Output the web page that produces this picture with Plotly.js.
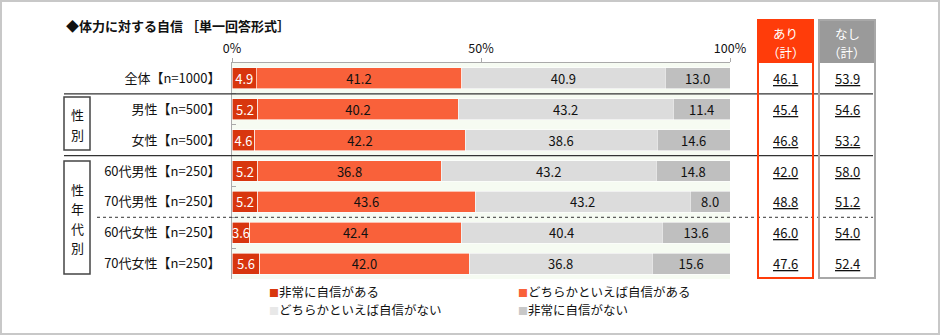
<!DOCTYPE html>
<html><head><meta charset="utf-8">
<script src="https://cdn.plot.ly/plotly-3.0.1.min.js"></script>
<style>html,body{margin:0;padding:0;background:#fff}#c{width:940px;height:335px}</style>
</head><body><div id="c"></div>
<script>
const categories = ['全体【n=1000】','男性【n=500】','女性【n=500】','60代男性【n=250】','70代男性【n=250】','60代女性【n=250】','70代女性【n=250】'];
const seriesNames = ['非常に自信がある','どちらかといえば自信がある','どちらかといえば自信がない','非常に自信がない'];
const verySure = [4.9,5.2,4.6,5.2,5.2,3.6,5.6];
const ratherSure = [41.2,40.2,42.2,36.8,43.6,42.4,42.0];
const ratherNotSure = [40.9,43.2,38.6,43.2,43.2,40.4,36.8];
const notSure = [13.0,11.4,14.6,14.8,8.0,13.6,15.6];
const ariTotal = [46.1,45.4,46.8,42.0,48.8,46.0,47.6];
const nashiTotal = [53.9,54.6,53.2,58.0,51.2,54.0,52.4];
const xTickVals = [0,50,100];
const xTickText = ['0%','50%','100%'];

const colors = ['#d8360e','#f9613a','#dcdcdc','#bfbfbf'];
const legendColors = ['#d8360e','#f9613a','#e8e8e8','#c8c8c8'];
const textColors = ['#ffffff','#111111','#111111','#111111'];
const FONT = '"Noto Sans CJK JP", "Noto Sans", sans-serif';

const L = 232, R = 730, T = 63, B = 279;
const px = v => (v - L) / (R - L);
const py = v => (B - v) / (B - T);

const allSeries = [verySure, ratherSure, ratherNotSure, notSure];
const traces = allSeries.map((vals, k) => ({
  type: 'bar', orientation: 'h', name: seriesNames[k],
  x: vals, y: categories,
  marker: {color: colors[k], line: {color: '#ffffff', width: 0.6}},
  width: 0.68,
  texttemplate: '%{x:.1f}', textposition: 'inside', insidetextanchor: 'middle',
  textangle: 0, constraintext: 'none', cliponaxis: false,
  textfont: {family: FONT, size: 13, color: textColors[k]},
  hoverinfo: 'skip', showlegend: false
}));

const shapes = [
  {type:'rect', xref:'paper', yref:'paper', x0:px(1), x1:px(939), y0:py(1), y1:py(334), line:{color:'#c8c8c8', width:2}},
  {type:'line', xref:'paper', yref:'y', x0:px(64), x1:px(873), y0:0.5, y1:0.5, line:{color:'#333', width:1.3}},
  {type:'line', xref:'paper', yref:'y', x0:px(64), x1:px(873), y0:2.5, y1:2.5, line:{color:'#333', width:1.3}},
  {type:'line', xref:'paper', yref:'y', x0:px(97), x1:px(873), y0:4.5, y1:4.5, line:{color:'#333', width:1, dash:'dot'}},
  {type:'rect', xref:'paper', yref:'paper', x0:px(64), x1:px(90), y0:py(97), y1:py(150), line:{color:'#444', width:1.5}, fillcolor:'#fff'},
  {type:'rect', xref:'paper', yref:'paper', x0:px(64), x1:px(90), y0:py(161), y1:py(274), line:{color:'#444', width:1.5}, fillcolor:'#fff'},
  {type:'rect', xref:'paper', yref:'paper', x0:px(758), x1:px(813), y0:py(20), y1:py(63), line:{width:0}, fillcolor:'#ff3c0a'},
  {type:'rect', xref:'paper', yref:'paper', x0:px(758), x1:px(813), y0:py(20), y1:py(278), line:{color:'#ff3c0a', width:2}},
  {type:'rect', xref:'paper', yref:'paper', x0:px(819), x1:px(875), y0:py(20), y1:py(63), line:{width:0}, fillcolor:'#9a9a9a'},
  {type:'rect', xref:'paper', yref:'paper', x0:px(819), x1:px(875), y0:py(20), y1:py(278), line:{color:'#a8a8a8', width:2}}
];

const ann = (x, y, text, opts) => Object.assign({xref:'paper', yref:'paper', x:px(x), y:py(y),
  xanchor:'center', yanchor:'middle', showarrow:false, text:text,
  font:{family:FONT, size:13, color:'#111'}}, opts || {});

const annotations = [
  ann(64, 25, '<b>◆体力に対する自信 ［単一回答形式］</b>', {xanchor:'left'}),
  ann(77, 114, '性'), ann(77, 134, '別'),
  ann(77, 189, '性'), ann(77, 208.5, '年'), ann(77, 228, '代'), ann(77, 247.5, '別'),
  ann(785.5, 33, 'あり', {font:{family:FONT, size:12.5, color:'#fff'}}),
  ann(785.5, 52, '（計）', {font:{family:FONT, size:12.5, color:'#fff'}}),
  ann(847, 33, 'なし', {font:{family:FONT, size:12.5, color:'#fff'}}),
  ann(847, 52, '（計）', {font:{family:FONT, size:12.5, color:'#fff'}})
];
ariTotal.forEach((v, i) => annotations.push({xref:'paper', yref:'y', x:px(785.5), y:i, showarrow:false,
  xanchor:'center', yanchor:'middle', text:'<u>' + v.toFixed(1) + '</u>', font:{family:FONT, size:13, color:'#111'}}));
nashiTotal.forEach((v, i) => annotations.push({xref:'paper', yref:'y', x:px(847), y:i, showarrow:false,
  xanchor:'center', yanchor:'middle', text:'<u>' + v.toFixed(1) + '</u>', font:{family:FONT, size:13, color:'#111'}}));
// legend: 2 x 2 grid
const legPos = [[267,291],[516,291],[267,309.5],[516,309.5]];
seriesNames.forEach((n, k) => annotations.push(ann(legPos[k][0], legPos[k][1],
  '<span style="color:' + legendColors[k] + ';font-size:10px">■</span>' + n,
  {xanchor:'left', font:{family:FONT, size:12.5, color:'#111'}})));

const layout = {
  width: 940, height: 335,
  margin: {l: L, r: 940 - R, t: T, b: 335 - B},
  paper_bgcolor: '#ffffff', plot_bgcolor: '#f6fbf2',
  barmode: 'stack',
  showlegend: false,
  xaxis: {side:'top', range:[0,100.0001], tickvals:xTickVals, ticktext:xTickText, ticks:'outside', ticklen:4,
    tickcolor:'#aaa', showline:true, linecolor:'#aaa', linewidth:1, showgrid:false, zeroline:false,
    tickfont:{family:FONT, size:12.5, color:'#111'}, fixedrange:true},
  yaxis: {type:'category', categoryorder:'array', categoryarray:categories, autorange:'reversed',
    tickson:'boundaries', ticks:'inside', ticklen:4, tickcolor:'#aaa', showline:true, linecolor:'#aaa',
    showgrid:false, zeroline:false, ticklabelstandoff:8,
    tickfont:{family:FONT, size:13, color:'#111'}, fixedrange:true},
  shapes: shapes, annotations: annotations,
  font: {family: FONT}
};
Plotly.newPlot('c', traces, layout, {staticPlot:true, displayModeBar:false});
</script></body></html>
